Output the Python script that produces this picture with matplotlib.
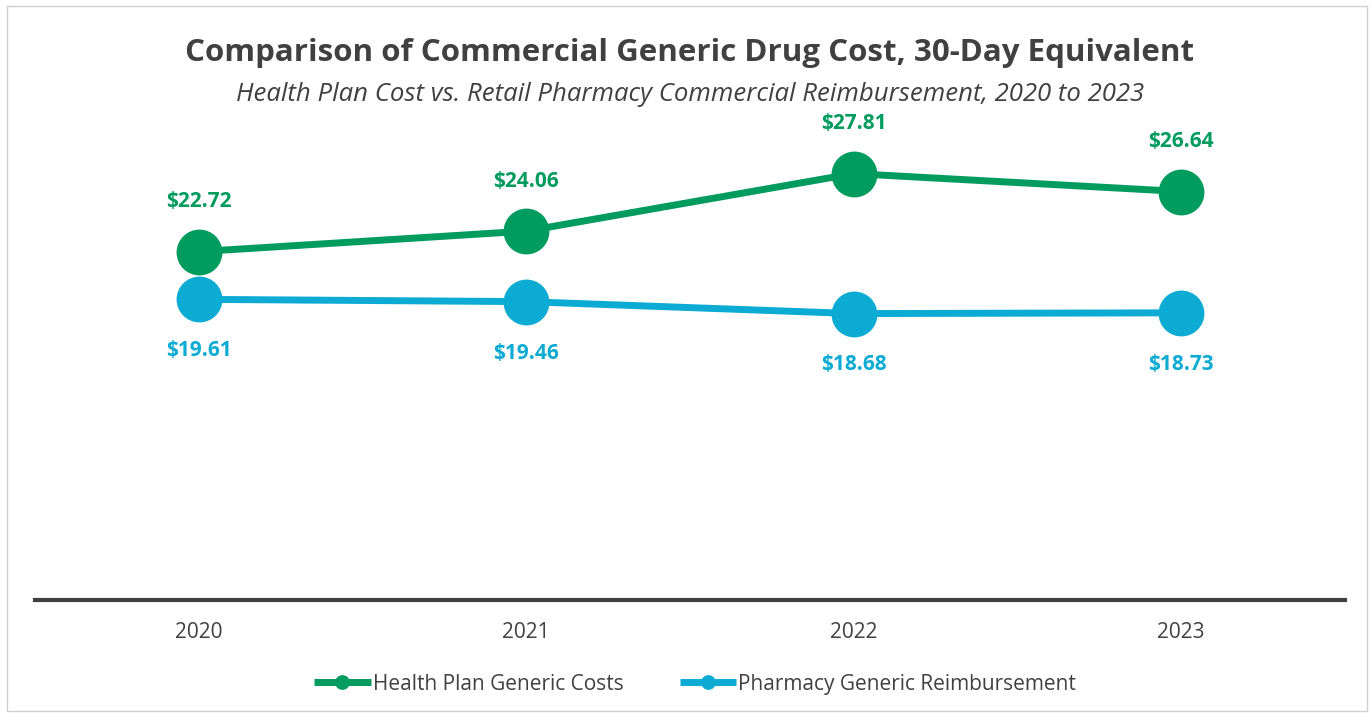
import matplotlib.pyplot as plt
from matplotlib.patches import Rectangle

years = ["2020", "2021", "2022", "2023"]
health_plan = [22.72, 24.06, 27.81, 26.64]
pharmacy = [19.61, 19.46, 18.68, 18.73]

green = "#009B5E"
blue = "#0BABD3"
dark = "#404040"

plt.rcParams["font.family"] = ["Open Sans", "DejaVu Sans"]

fig = plt.figure(figsize=(13.71, 7.17), dpi=100)
ax = fig.add_axes([0.0255, 0.1632, 0.9555, 0.6415])

x = list(range(len(years)))
ax.plot(x, health_plan, color=green, lw=5, marker="o", ms=32,
        label="Health Plan Generic Costs", solid_capstyle="butt")
ax.plot(x, pharmacy, color=blue, lw=5, marker="o", ms=32,
        label="Pharmacy Generic Reimbursement", solid_capstyle="butt")

for xi, v in zip(x, health_plan):
    ax.annotate(f"${v:.2f}", (xi, v), xytext=(0, 36), textcoords="offset points",
                ha="center", va="center", color=green, fontsize=15, fontweight="bold")
for xi, v in zip(x, pharmacy):
    ax.annotate(f"${v:.2f}", (xi, v), xytext=(0, -37), textcoords="offset points",
                ha="center", va="center", color=blue, fontsize=15, fontweight="bold")

ax.set_xlim(-0.5, 3.5)
ax.set_ylim(0, 30)
ax.set_xticks(x)
ax.set_xticklabels(years, fontsize=15, color=dark)
ax.tick_params(axis="x", length=0, pad=16)
ax.set_yticks([])
for side in ["top", "right", "left"]:
    ax.spines[side].set_visible(False)
ax.spines["bottom"].set_color(dark)
ax.spines["bottom"].set_linewidth(3)

leg = fig.legend(loc="center", bbox_to_anchor=(0.507, 0.046), ncol=2, frameon=False,
                 fontsize=15, markerscale=0.3, handlelength=2.7, handletextpad=0.1,
                 columnspacing=2.7)
for t in leg.get_texts():
    t.set_color(dark)

fig.text(0.503, 0.926, "Comparison of Commercial Generic Drug Cost, 30-Day Equivalent",
         ha="center", va="center", fontsize=22.5, fontweight="bold", color=dark)
fig.text(0.503, 0.868, "Health Plan Cost vs. Retail Pharmacy Commercial Reimbursement, 2020 to 2023",
         ha="center", va="center", fontsize=18.5, style="italic", color=dark)

fig.patches.append(Rectangle((0.005, 0.008), 0.992, 0.984, transform=fig.transFigure,
                             fill=False, edgecolor="#D0D0D0", lw=1))

fig.savefig("out.png", dpi=100)
